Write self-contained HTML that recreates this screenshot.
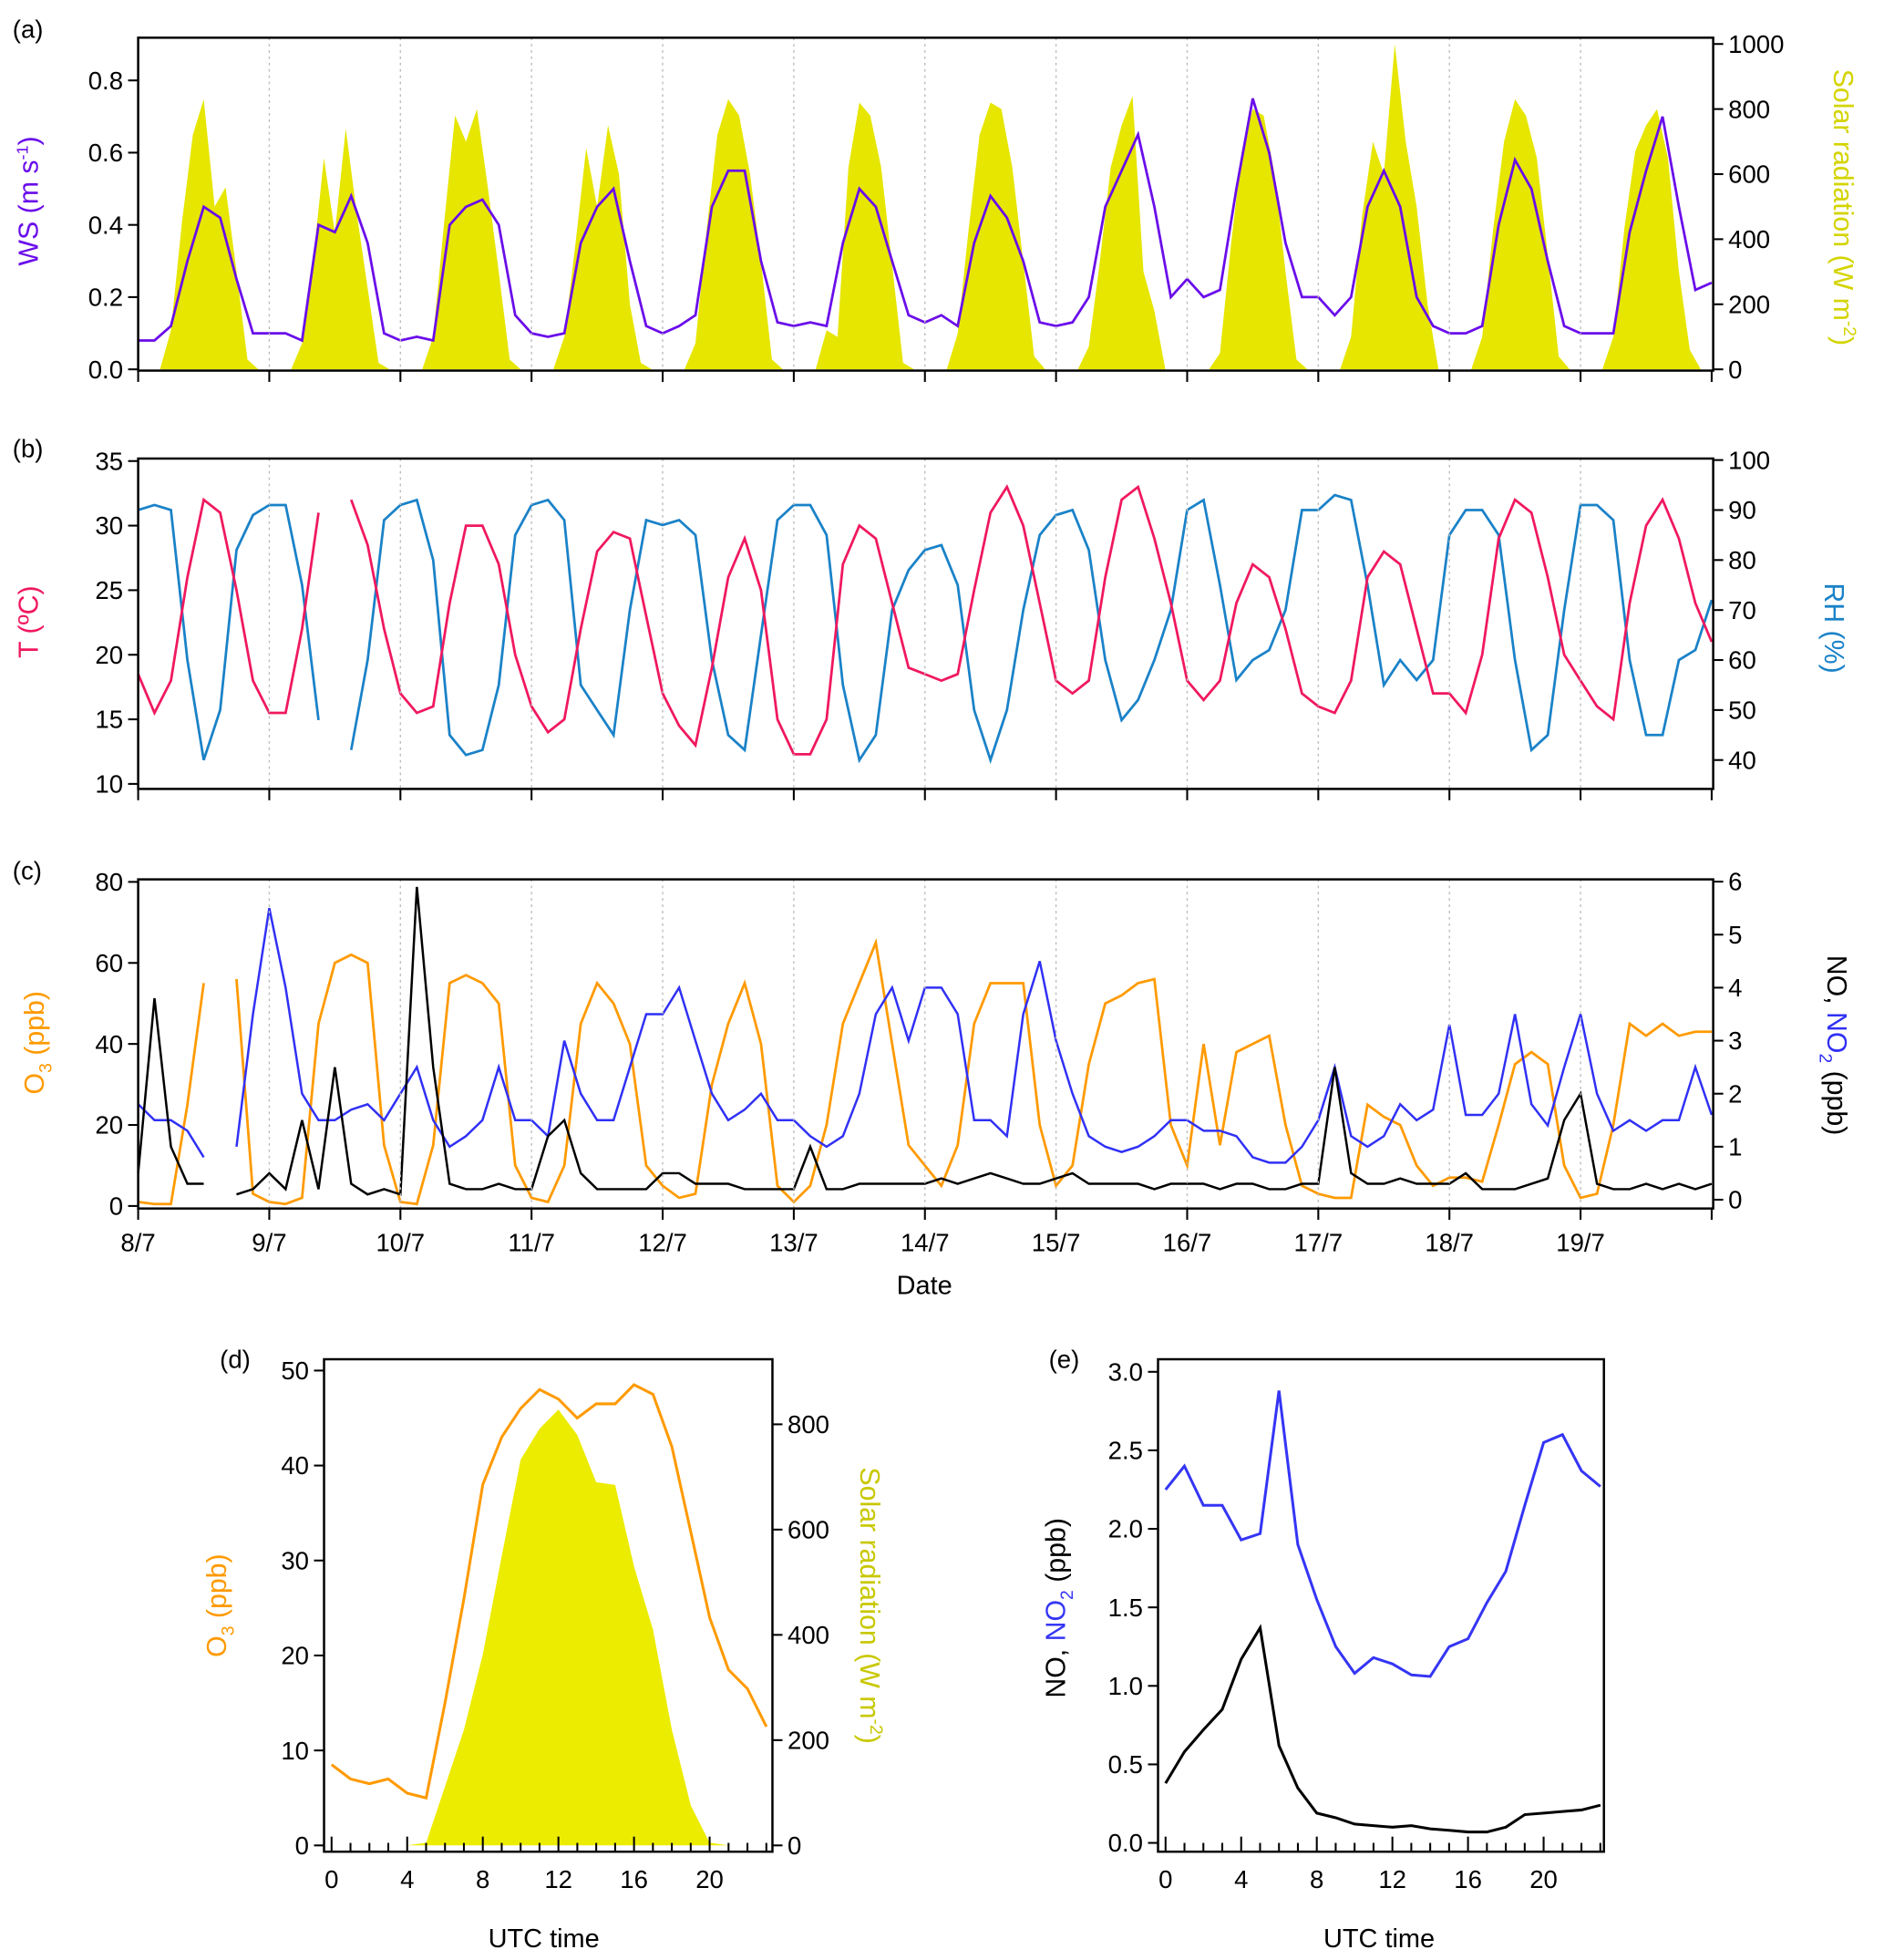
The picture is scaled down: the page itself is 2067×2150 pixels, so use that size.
<!DOCTYPE html>
<html><head><meta charset="utf-8"><style>
html,body{margin:0;padding:0;background:#fff}
svg{display:block}
text{font-family:"Liberation Sans",Arial,sans-serif}
</style></head><body>
<svg id="chart" xmlns="http://www.w3.org/2000/svg" width="2067" height="2150" viewBox="0 0 1500 1560.2">
<g id="root"></g>
</svg>
<script>
// ---------- DATA ----------
const dayLabels = ["8/7","9/7","10/7","11/7","12/7","13/7","14/7","15/7","16/7","17/7","18/7","19/7"];
// solar radiation, 2-hourly (W m-2)
const solarDays = [
[0,0,0,120,450,720,830,500,560,300,30,0],
[0,0,0,80,330,650,420,740,480,250,20,0],
[0,0,0,100,450,780,700,800,560,300,30,0],
[0,0,0,100,380,680,500,750,600,200,20,0],
[0,0,0,80,420,720,830,780,600,330,30,0],
[0,0,0,120,100,620,820,780,620,320,20,0],
[0,0,0,110,430,720,820,800,620,330,40,0],
[0,0,0,70,330,620,750,840,300,180,0,0],
[0,0,0,50,380,670,800,780,600,300,30,0],
[0,0,0,100,470,700,600,1000,700,500,200,0],
[0,0,0,100,430,700,830,780,650,350,40,0],
[0,0,0,100,430,670,750,800,650,300,60,0]];
// wind speed 3-hourly (m s-1)
const wsDays = [
[0.08,0.08,0.12,0.3,0.45,0.42,0.25,0.1],
[0.1,0.1,0.08,0.4,0.38,0.48,0.35,0.1],
[0.08,0.09,0.08,0.4,0.45,0.47,0.4,0.15],
[0.1,0.09,0.1,0.35,0.45,0.5,0.3,0.12],
[0.1,0.12,0.15,0.45,0.55,0.55,0.3,0.13],
[0.12,0.13,0.12,0.35,0.5,0.45,0.3,0.15],
[0.13,0.15,0.12,0.35,0.48,0.42,0.3,0.13],
[0.12,0.13,0.2,0.45,0.55,0.65,0.45,0.2],
[0.25,0.2,0.22,0.5,0.75,0.6,0.35,0.2],
[0.2,0.15,0.2,0.45,0.55,0.45,0.2,0.12],
[0.1,0.1,0.12,0.4,0.58,0.5,0.3,0.12],
[0.1,0.1,0.1,0.38,0.55,0.7,0.45,0.22],[0.24]];
// temperature 3-hourly (C)
const tDays = [
[18.5,15.5,18,26,32,31,25,18],
[15.5,15.5,22,31,null,32,28.5,22],
[17,15.5,16,24,30,30,27,20],
[16,14,15,22,28,29.5,29,23],
[17,14.5,13,19,26,29,25,15],
[12.3,12.3,15,27,30,29,24,19],
[18.5,18,18.5,25,31,33,30,24],
[18,17,18,26,32,33,29,24],
[18,16.5,18,24,27,26,22,17],
[16,15.5,18,26,28,27,22,17],
[17,15.5,20,29,32,31,26,20],
[18,16,15,24,30,32,29,24],[21]];
// relative humidity 3-hourly (%)
const rhDays = [
[90,91,90,60,40,50,82,89],
[91,91,75,48,null,42,60,88],
[91,92,80,45,41,42,55,85],
[91,92,88,55,50,45,70,88],
[87,88,85,60,45,42,65,88],
[91,91,85,55,40,45,70,78],
[82,83,75,50,40,50,70,85],
[89,90,82,60,48,52,60,70],
[90,92,75,56,60,62,70,90],
[90,93,92,75,55,60,56,60],
[85,90,90,85,60,42,45,70],
[91,91,88,60,45,45,60,62],[72]];
// ozone 3-hourly (ppb)
const o3Days = [
[1,0.5,0.5,25,55,null,56,3],
[1,0.5,2,45,60,62,60,15],
[1,0.5,15,55,57,55,50,10],
[2,1,10,45,55,50,40,10],
[5,2,3,30,45,55,40,5],
[1,5,20,45,55,65,40,15],
[10,5,15,45,55,55,55,20],
[5,10,35,50,52,55,56,20],
[10,40,15,38,40,42,20,5],
[3,2,2,25,22,20,10,5],
[7,7,6,20,35,38,35,10],
[2,3,20,45,42,45,42,43],[43]];
// NO2 3-hourly (ppb)
const no2Days = [
[1.8,1.5,1.5,1.3,0.8,null,1.0,3.5],
[5.5,4,2,1.5,1.5,1.7,1.8,1.5],
[2,2.5,1.5,1,1.2,1.5,2.5,1.5],
[1.5,1.2,3,2,1.5,1.5,2.5,3.5],
[3.5,4,3,2,1.5,1.7,2,1.5],
[1.5,1.2,1,1.2,2,3.5,4,3],
[4,4,3.5,1.5,1.5,1.2,3.5,4.5],
[3,2,1.2,1,0.9,1,1.2,1.5],
[1.5,1.3,1.3,1.2,0.8,0.7,0.7,1.0],
[1.5,2.5,1.2,1.0,1.2,1.8,1.5,1.7],
[3.3,1.6,1.6,2,3.5,1.8,1.4,2.5],
[3.5,2,1.3,1.5,1.3,1.5,1.5,2.5],[1.6]];
// NO 3-hourly (ppb)
const noDays = [
[0.5,3.8,1.0,0.3,0.3,null,0.1,0.2],
[0.5,0.2,1.5,0.2,2.5,0.3,0.1,0.2],
[0.1,5.9,2.5,0.3,0.2,0.2,0.3,0.2],
[0.2,1.2,1.5,0.5,0.2,0.2,0.2,0.2],
[0.5,0.5,0.3,0.3,0.3,0.2,0.2,0.2],
[0.2,1,0.2,0.2,0.3,0.3,0.3,0.3],
[0.3,0.4,0.3,0.4,0.5,0.4,0.3,0.3],
[0.4,0.5,0.3,0.3,0.3,0.3,0.2,0.3],
[0.3,0.3,0.2,0.3,0.3,0.2,0.2,0.3],
[0.3,2.5,0.5,0.3,0.3,0.4,0.3,0.3],
[0.3,0.5,0.2,0.2,0.2,0.3,0.4,1.5],
[2,0.3,0.2,0.2,0.3,0.2,0.3,0.2],[0.3]];
// diurnal means (hour 0..23)
const hours = [0,1,2,3,4,5,6,7,8,9,10,11,12,13,14,15,16,17,18,19,20,21,22,23];
const o3Diurnal = [8.5,7,6.5,7,5.5,5,15,26,38,43,46,48,47,45,46.5,46.5,48.5,47.5,42,33,24,18.5,16.5,12.5];
const solarDiurnal = [0,0,0,0,0,5,112,220,363,550,733,792,828,780,690,685,530,410,220,76,5,0,0,0];
const no2Diurnal = [2.25,2.4,2.15,2.15,1.93,1.97,2.88,1.9,1.55,1.25,1.08,1.18,1.14,1.07,1.06,1.25,1.3,1.53,1.73,2.15,2.55,2.6,2.37,2.27];
const noDiurnal = [0.38,0.58,0.72,0.85,1.17,1.37,0.62,0.35,0.19,0.16,0.12,0.11,0.1,0.11,0.09,0.08,0.07,0.07,0.1,0.18,0.19,0.2,0.21,0.24];
const wsTicks=[0,0.2,0.4,0.6,0.8], wsTickLabels=["0.0","0.2","0.4","0.6","0.8"];
const solTicks=[0,200,400,600,800,1000];
const tTicks=[10,15,20,25,30,35], rhTicks=[40,50,60,70,80,90,100];
const o3Ticks=[0,20,40,60,80], noTicks=[0,1,2,3,4,5,6];
const dO3Ticks=[0,10,20,30,40,50], dSolTicks=[0,200,400,600,800];
const eTicks=[0,0.5,1.0,1.5,2.0,2.5,3.0], eTickLabels=["0.0","0.5","1.0","1.5","2.0","2.5","3.0"];
const hourTickLabels=[0,4,8,12,16,20];

// ---------- HELPERS ----------
const NS="http://www.w3.org/2000/svg";
const root=document.getElementById('root');
function mk(tag,attrs,parent){const e=document.createElementNS(NS,tag);for(const k in attrs)e.setAttribute(k,attrs[k]);(parent||root).appendChild(e);return e;}
function txt(s,x,y,attrs,parent){const e=mk('text',Object.assign({x:x,y:y,'font-size':20,fill:'#000'},attrs||{}),parent);e.innerHTML=s;return e;}
const flat=a=>[].concat(...a);
const X0=110, DAYW=104.4;
const xt=h=>X0+h/24*DAYW;
function pathD(vals,xf,yf){let d='',pen=false;vals.forEach((v,i)=>{if(v==null){pen=false;return;}d+=(pen?'L':'M')+xf(i).toFixed(1)+','+yf(v).toFixed(1);pen=true;});return d;}
function areaD(vals,xf,yf,base){let d='M'+xf(0).toFixed(1)+','+base;vals.forEach((v,i)=>{d+='L'+xf(i).toFixed(1)+','+yf(v).toFixed(1);});d+='L'+xf(vals.length-1).toFixed(1)+','+base+'Z';return d;}

function tsFrame(top,bot,name){
  const g=mk('g',{});
  
  
  for(let d=1;d<12;d++){mk('line',{x1:xt(d*24),x2:xt(d*24),y1:top,y2:bot,stroke:'#bbb','stroke-width':1,'stroke-dasharray':'2,3'},g);}
  for(let d=0;d<=12;d++){mk('line',{x1:xt(d*24),x2:xt(d*24),y1:bot,y2:bot+9,stroke:'#000','stroke-width':1.5},g);}
  mk('rect',{x:X0,y:top,width:1364-X0,height:bot-top,fill:'none',stroke:'#000','stroke-width':1.8},g);
  return g;
}
function yTicks(ticks,labels,yf,x,side,g){
  ticks.forEach((t,i)=>{const y=yf(t);
    mk('line',{x1:x,x2:x+(side<0?-8:8),y1:y,y2:y,stroke:'#000','stroke-width':1.5},g);
    txt(labels?labels[i]:String(t),x+(side<0?-12:12),y+7,{'text-anchor':side<0?'end':'start'},g);});
}

// ---------- PANEL A ----------
(function(){
  const top=30,bot=295;
  const yWS=v=>294-v*287.5, ySol=v=>294-v*0.259;
  const sol=flat(solarDays); sol.push(0);
  const ws=flat(wsDays);
  const g=mk('g',{});  
  const a=mk('path',{d:areaD(sol,i=>xt(i*2),ySol,294),fill:'#e6e600'},g);
   
  const l=mk('path',{d:pathD(ws,i=>xt(i*3),yWS),fill:'none',stroke:'#6a0dea','stroke-width':2},g);
   
  tsFrame(top,bot,'panel-a');
  yTicks(wsTicks,wsTickLabels,yWS,X0,-1,g);
  yTicks(solTicks,null,ySol,1364,1,g);
  const t1=txt('WS (m s<tspan font-size="13" dy="-8">-1</tspan><tspan dy="8">)</tspan>',0,0,{fill:'#6a0dea','font-size':22,'text-anchor':'middle',transform:'translate(30,160) rotate(-90)'},g);
   
  const t2=txt('Solar radiation (W m<tspan font-size="14" dy="-8">-2</tspan><tspan dy="8">)</tspan>',0,0,{fill:'#d4d400','font-size':22,'text-anchor':'middle',transform:'translate(1460,165) rotate(90)'},g);
   
  const p=txt('(a)',10,30,{'font-size':20},g);  
})();

// ---------- PANEL B ----------
(function(){
  const top=365,bot=628;
  const yT=v=>624-(v-10)*10.28, yRH=v=>605-(v-40)*3.98;
  const g=mk('g',{});  
  const rl=mk('path',{d:pathD(flat(rhDays),i=>xt(i*3),yRH),fill:'none',stroke:'#1a82c8','stroke-width':2},g);
   
  const tl=mk('path',{d:pathD(flat(tDays),i=>xt(i*3),yT),fill:'none',stroke:'#f0185e','stroke-width':2},g);
   
  tsFrame(top,bot,'panel-b');
  yTicks(tTicks,null,yT,X0,-1,g);
  yTicks(rhTicks,null,yRH,1364,1,g);
  const t1=txt('T (ºC)',0,0,{fill:'#f0185e','font-size':22,'text-anchor':'middle',transform:'translate(30,495) rotate(-90)'},g);
   
  const t2=txt('RH (%)',0,0,{fill:'#1a82c8','font-size':22,'text-anchor':'middle',transform:'translate(1453,500) rotate(90)'},g);
   
  const p=txt('(b)',10,364,{'font-size':20},g);  
})();

// ---------- PANEL C ----------
(function(){
  const top=700,bot=962;
  const yO3=v=>960-v*3.225, yNO=v=>955-v*42.2;
  const g=mk('g',{});  
  const o=mk('path',{d:pathD(flat(o3Days),i=>xt(i*3),yO3),fill:'none',stroke:'#ff9a00','stroke-width':2},g);
   
  const n2=mk('path',{d:pathD(flat(no2Days),i=>xt(i*3),yNO),fill:'none',stroke:'#3030f5','stroke-width':1.8},g);
   
  const n=mk('path',{d:pathD(flat(noDays),i=>xt(i*3),yNO),fill:'none',stroke:'#000','stroke-width':1.8},g);
   
  tsFrame(top,bot,'panel-c');
  yTicks(o3Ticks,null,yO3,X0,-1,g);
  yTicks(noTicks,null,yNO,1364,1,g);
  dayLabels.forEach((s,d)=>{const e=txt(s,xt(d*24),996,{'text-anchor':'middle'},g);
     });
  const xl=txt('Date',736,1030,{'text-anchor':'middle','font-size':21},g);
   
  const t1=txt('O<tspan font-size="14" dy="6">3</tspan><tspan dy="-6"> (ppb)</tspan>',0,0,{fill:'#ff9a00','font-size':22,'text-anchor':'middle',transform:'translate(35,830) rotate(-90)'},g);
   
  const t2=txt('NO, <tspan fill="#3030f5">NO<tspan font-size="14" dy="6">2</tspan></tspan><tspan dy="-6"> (ppb)</tspan>',0,0,{fill:'#000','font-size':22,'text-anchor':'middle',transform:'translate(1455,832) rotate(90)'},g);
   
  const p=txt('(c)',10,700,{'font-size':20},g);  
})();

// ---------- diurnal frame helper ----------
function diurnalFrame(L,R,T,B,x0,g){
  mk('rect',{x:L,y:T,width:R-L,height:B-T,fill:'none',stroke:'#000','stroke-width':1.8},g);
  for(let h=0;h<=23;h++){const x=x0+h*15.05;const major=h%4===0;
    mk('line',{x1:x,x2:x,y1:B,y2:B-(major?12:7),stroke:'#000','stroke-width':1.5},g);}
  hourTickLabels.forEach(h=>{const e=txt(String(h),x0+h*15.05,1503,{'text-anchor':'middle'},g);
     });
}

// ---------- PANEL D ----------
(function(){
  const L=258,R=615,T=1082,B=1474,x0=264;
  const xh=i=>x0+hours[i]*15.05;
  const yO=v=>1469-v*7.56, yS=v=>1469-v*0.419;
  const g=mk('g',{});  
  const a=mk('path',{d:areaD(solarDiurnal,xh,yS,1469),fill:'#ecec00'},g);
   
  const l=mk('path',{d:pathD(o3Diurnal,xh,yO),fill:'none',stroke:'#ff9a00','stroke-width':2.2},g);
   
  diurnalFrame(L,R,T,B,x0,g);
  yTicks(dO3Ticks,null,yO,L,-1,g);
  yTicks(dSolTicks,null,yS,R,1,g);
  const xl=txt('UTC time',433,1550,{'text-anchor':'middle','font-size':21},g);
   
  const t1=txt('O<tspan font-size="14" dy="6">3</tspan><tspan dy="-6"> (ppb)</tspan>',0,0,{fill:'#ff9a00','font-size':22,'text-anchor':'middle',transform:'translate(180,1278) rotate(-90)'},g);
   
  const t2=txt('Solar radiation (W m<tspan font-size="14" dy="-8">-2</tspan><tspan dy="8">)</tspan>',0,0,{fill:'#c8c800','font-size':22,'text-anchor':'middle',transform:'translate(685,1278) rotate(90)'},g);
   
  const p=txt('(d)',175,1089,{'font-size':20},g);  
})();

// ---------- PANEL E ----------
(function(){
  const L=922,R=1277,T=1082,B=1474,x0=928;
  const xh=i=>x0+hours[i]*15.05;
  const y=v=>1467-v*125;
  const g=mk('g',{});  
  const n2=mk('path',{d:pathD(no2Diurnal,xh,y),fill:'none',stroke:'#3535f5','stroke-width':2.2},g);
   
  const n=mk('path',{d:pathD(noDiurnal,xh,y),fill:'none',stroke:'#000','stroke-width':2.2},g);
   
  diurnalFrame(L,R,T,B,x0,g);
  yTicks(eTicks,eTickLabels,y,L,-1,g);
  const xl=txt('UTC time',1098,1550,{'text-anchor':'middle','font-size':21},g);
   
  const t1=txt('NO, <tspan fill="#3535f5">NO<tspan font-size="14" dy="6">2</tspan></tspan><tspan dy="-6"> (ppb)</tspan>',0,0,{fill:'#000','font-size':22,'text-anchor':'middle',transform:'translate(848,1280) rotate(-90)'},g);
   
  const p=txt('(e)',835,1089,{'font-size':20},g);  
})();
</script>
</body></html>
